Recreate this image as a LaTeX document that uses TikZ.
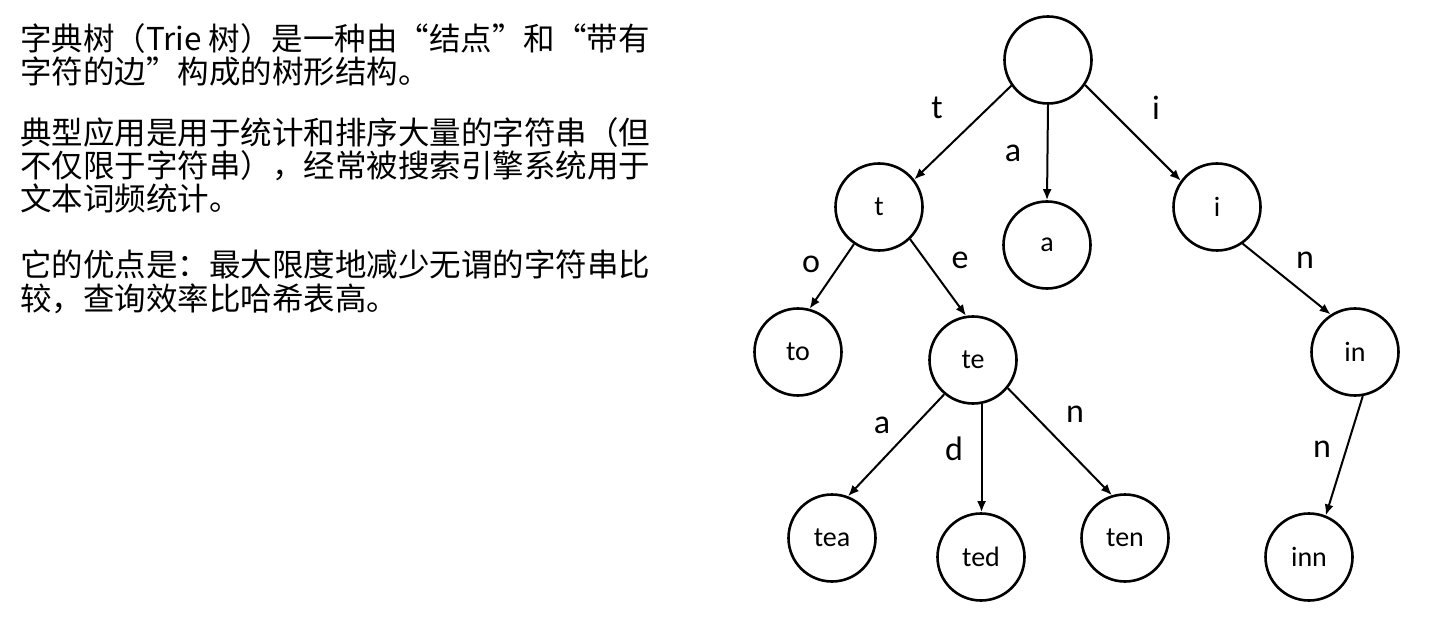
\documentclass[tikz,border=0pt]{standalone}
\usepackage{fontspec}
\newfontfamily\cjk{Noto Sans CJK SC}
\newfontfamily\lab{Carlito}
\usetikzlibrary{arrows.meta}
\begin{document}
\begin{tikzpicture}[x=1pt,y=-1pt,
  trienode/.style={circle, draw, line width=2.6pt, minimum size=87pt, inner sep=0pt, font=\lab\fontsize{28}{30}\selectfont},
  edgelab/.style={inner sep=0pt, font=\lab\fontsize{34}{36}\selectfont},
  arr/.style={line width=2pt, -{Latex[length=11pt,width=9pt]}},
  para/.style={anchor=base west, inner sep=0pt, font=\cjk\fontsize{31.5}{33}\selectfont}]
\useasboundingbox (0,0) rectangle (1456,620);
\fill[white] (0,0) rectangle (1456,620);

% left text
\node[para] (p1a) at (20,51) {字典树（Trie 树）是一种由“结点”和“带有};
\node[para] (p1b) at (20,84) {字符的边”构成的树形结构。};
\node[para] (p2a) at (20,145) {典型应用是用于统计和排序大量的字符串（但};
\node[para] (p2b) at (20,178) {不仅限于字符串），经常被搜索引擎系统用于};
\node[para] (p2c) at (20,211) {文本词频统计。};
\node[para] (p3a) at (20,277) {它的优点是：最大限度地减少无谓的字符串比};
\node[para] (p3b) at (20,310) {较，查询效率比哈希表高。};

% tree nodes
\node[trienode] (root) at (1048,60) {};
\node[trienode] (t) at (879,207) {t};
\node[trienode] (a) at (1047,245) {a};
\node[trienode] (i) at (1217,207) {i};
\node[trienode] (to) at (798,352) {to};
\node[trienode] (te) at (973,360) {te};
\node[trienode] (in) at (1355,352) {in};
\node[trienode] (tea) at (832,538) {tea};
\node[trienode] (ted) at (981,557) {ted};
\node[trienode] (ten) at (1125,538) {ten};
\node[trienode] (inn) at (1309,557) {inn};

% edges
\draw[arr] (root.215) -- (t.38);
\draw[arr] (root.south) -- (a.north);
\draw[arr] (root.326) -- (i.144);
\draw[arr] (t.236) -- (to.75);
\draw[arr] (t.314) -- (te.99);
\draw[arr] (i.305) -- (in.123);
\draw[arr] (te.230) -- (tea.69);
\draw[arr] (te.281) -- (te.281 |- ted.north);
\draw[arr] (te.321) -- (ten.107);
\draw[arr] (in.280) -- (inn.68);

% edge labels
\node[edgelab] (lt) at (937,108) {t};
\node[edgelab] (la) at (1013,153) {a};
\node[edgelab] (li) at (1156,108) {i};
\node[edgelab] (lo) at (811,264) {o};
\node[edgelab] (le) at (960,260) {e};
\node[edgelab] (ln1) at (1305,260) {n};
\node[edgelab] (la2) at (882,425) {a};
\node[edgelab] (ld) at (954,449) {d};
\node[edgelab] (ln2) at (1075,414) {n};
\node[edgelab] (ln3) at (1322,449) {n};
\end{tikzpicture}
\end{document}
